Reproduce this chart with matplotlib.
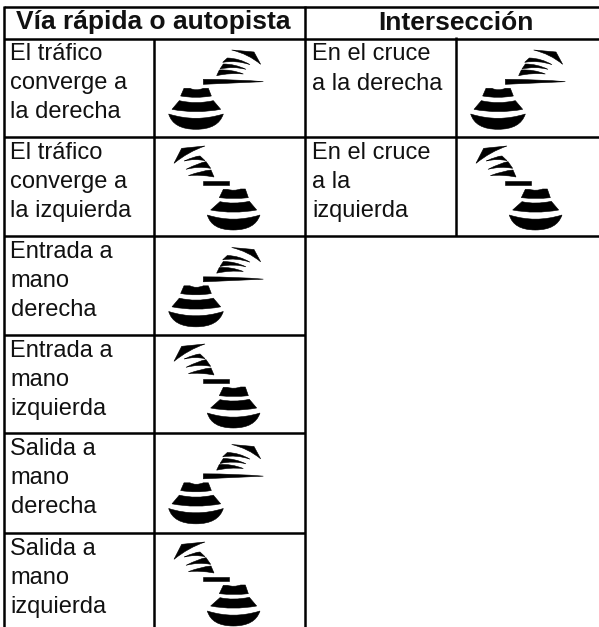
import matplotlib
matplotlib.use('Agg')
import matplotlib.pyplot as plt
from matplotlib.path import Path
from matplotlib.patches import PathPatch

W, H = 599, 627

headers = ['Vía rápida o autopista', 'Intersección']
left_labels = [
    ['El tráfico', 'converge a', 'la derecha'],
    ['El tráfico', 'converge a', 'la izquierda'],
    ['Entrada a', 'mano', 'derecha'],
    ['Entrada a', 'mano', 'izquierda'],
    ['Salida a', 'mano', 'derecha'],
    ['Salida a', 'mano', 'izquierda'],
]
right_labels = [['En el cruce', 'a la derecha'], ['En el cruce', 'a la', 'izquierda']]
left_sides = ['R', 'L', 'R', 'L', 'R', 'L']
right_sides = ['R', 'L']

# grid lines in pixels
col_x = [3.5, 154, 305, 456, 599]
row_y = [38.5, 137, 236, 335, 433, 533]
top_y = 7

# sensor glyphs: 3x zoomed pixels, each shape is a list of (x, y) or (ctrl, end) for a curve
glyph_r = [
    [(86, 252), ((168, 278), (250, 252)), ((235, 298), (168, 298)), ((100, 298), (86, 252))],
    [(96, 238), (118, 212), ((168, 224), (220, 212)), (242, 238), ((168, 252), (96, 238))],
    [(122, 198), (132, 175), (150, 175), ((168, 184), (190, 175)), (205, 175), (214, 198), ((168, 206), (122, 198))],
    [(190, 148), ((290, 148), (370, 155)), (190, 163)],
    [(230, 137), (238, 120), ((275, 118), (310, 132)), ((270, 128), (230, 137))],
    [(240, 117), (250, 102), ((285, 102), (318, 118)), ((280, 108), (240, 117))],
    [(248, 97), (262, 84), ((298, 85), (330, 104)), ((290, 90), (248, 97))],
    [(275, 60), (342, 66), (362, 103), ((325, 72), (275, 60))],
]
glyph_l = [
    [(202, 255), ((280, 280), (360, 255)), ((345, 300), (280, 300)), ((215, 300), (202, 255))],
    [(212, 240), (240, 215), ((280, 224), (328, 214)), (350, 240), ((280, 253), (212, 240))],
    [(238, 203), (250, 178), (262, 178), ((282, 184), (302, 177)), (316, 177), (325, 203), ((282, 208), (238, 203))],
    [(188, 152), (268, 152), (268, 165), (188, 165)],
    [(145, 137), ((185, 122), (213, 120)), (222, 141), ((180, 133), (145, 137))],
    [(138, 118), ((178, 98), (198, 95)), (212, 115), ((175, 108), (138, 118))],
    [(133, 93), ((165, 78), (180, 78)), (195, 92), ((165, 85), (133, 93))],
    [(195, 48), (125, 55), (102, 100), ((145, 65), (195, 48))],
]
glyph_origin = {'R': (140 - 154, 30 - 38.5), 'L': (140 - 154, 130 - 137)}
glyphs = {'R': glyph_r, 'L': glyph_l}


def draw_glyph(ax, side, cell_x, cell_y):
    ox, oy = glyph_origin[side]
    for shape in glyphs[side]:
        verts, codes = [], []
        for i, p in enumerate(shape):
            if isinstance(p[0], tuple):
                for q in p:
                    verts.append((cell_x + ox + q[0] / 3, cell_y + oy + q[1] / 3))
                    codes.append(Path.CURVE3)
            else:
                verts.append((cell_x + ox + p[0] / 3, cell_y + oy + p[1] / 3))
                codes.append(Path.MOVETO if i == 0 else Path.LINETO)
        verts.append(verts[0])
        codes.append(Path.CLOSEPOLY)
        ax.add_patch(PathPatch(Path(verts, codes), fc='black', ec='black', lw=0.4))


def draw_label(ax, lines, x, y):
    for i, line in enumerate(lines):
        ax.text(x, y + 22 + 29 * i, line, ha='left', va='baseline', fontsize=17, color='#111111')


plt.rcParams['font.family'] = ['Liberation Sans', 'DejaVu Sans']
fig = plt.figure(figsize=(W / 100, H / 100), dpi=100)
ax = fig.add_axes([0, 0, 1, 1])
ax.set_xlim(0, W)
ax.set_ylim(H, 0)
ax.axis('off')

lw = 1.8
for y in [top_y, row_y[0], row_y[1], row_y[2]]:
    ax.plot([col_x[0], col_x[-1]], [y, y], 'k', lw=lw, solid_capstyle='butt')
for y in row_y[3:]:
    ax.plot([col_x[0], col_x[2]], [y, y], 'k', lw=lw, solid_capstyle='butt')
ax.plot([col_x[0], col_x[0]], [top_y - 1, H], 'k', lw=lw, solid_capstyle='butt')
ax.plot([col_x[2], col_x[2]], [top_y - 1, H], 'k', lw=lw, solid_capstyle='butt')
ax.plot([col_x[1], col_x[1]], [row_y[0], H], 'k', lw=lw, solid_capstyle='butt')
ax.plot([col_x[3], col_x[3]], [row_y[0] - 2, row_y[2]], 'k', lw=lw, solid_capstyle='butt')

ax.text(153.5, 29.5, headers[0], ha='center', va='baseline', fontsize=19, fontweight='bold', color='#111111')
ax.text(455.5, 29.5, headers[1], ha='center', va='baseline', fontsize=19, fontweight='bold', color='#111111')

for i, lines in enumerate(left_labels):
    draw_label(ax, lines, col_x[0] + 7, row_y[i])
    draw_glyph(ax, left_sides[i], col_x[1], row_y[i])
for i, lines in enumerate(right_labels):
    draw_label(ax, lines, col_x[2] + 7, row_y[i])
    draw_glyph(ax, right_sides[i], col_x[3], row_y[i])

fig.savefig('out.png', dpi=100)
